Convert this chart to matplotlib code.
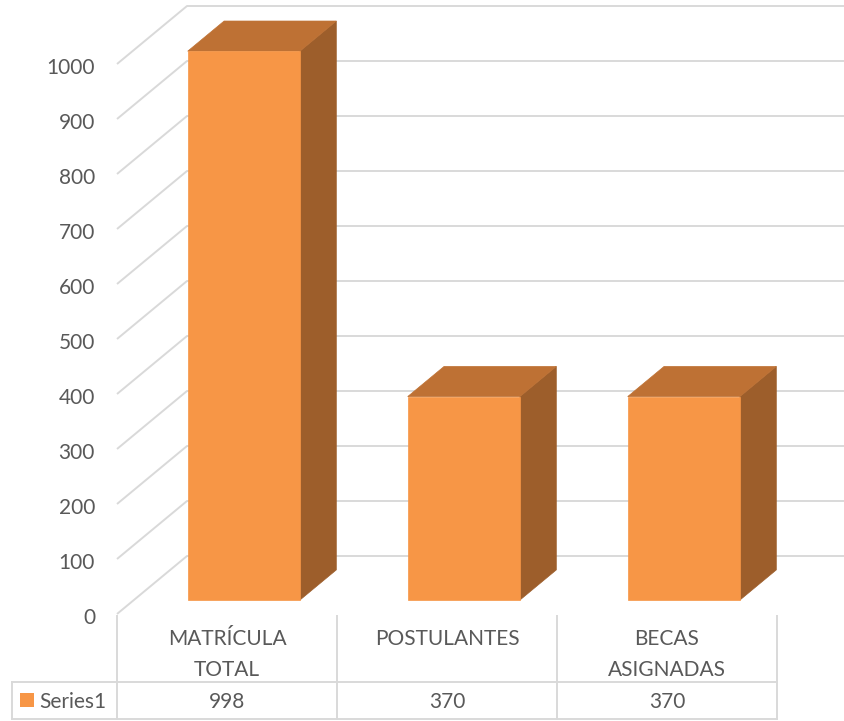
import matplotlib.pyplot as plt
from matplotlib.patches import Polygon

# datos
categorias = ['MATRÍCULA\nTOTAL', 'POSTULANTES', 'BECAS\nASIGNADAS']
valores = [998, 370, 370]
serie = 'Series1'
ticks = [0, 100, 200, 300, 400, 500, 600, 700, 800, 900, 1000]

plt.rcParams['font.family'] = ['Lato', 'DejaVu Sans']
gris_txt = '#595959'
gris_lin = '#d9d9d9'
c_frente, c_tope, c_lado = '#F79646', '#BE7134', '#9D5E2B'
fs = 15

fig = plt.figure(figsize=(8.44, 7.21), dpi=100)
ax = fig.add_axes([0, 0, 1, 1])
ax.set_xlim(0, 844)
ax.set_ylim(721, 0)
ax.axis('off')

# proyeccion oblicua tipo Excel 3D
x_izq, ancho_cat, y_cero, esc = 117, 220, 614, 0.55
prof_dx, prof_dy = 70, 58


def proj(c, v, d):
    return (x_izq + c * ancho_cat + d * prof_dx, y_cero - v * esc - d * prof_dy)


# lineas de cuadricula (pared lateral + pared del fondo)
for t in ticks:
    p0, p1, p2 = proj(0, t, 0), proj(0, t, 1), proj(len(categorias) + 0.2, t, 1)
    ax.plot([p0[0], p1[0], p2[0]], [p0[1], p1[1], p2[1]], color=gris_lin, lw=1.4,
            solid_capstyle='butt', zorder=1)
    ax.text(p0[0] - 22, p0[1] + 4, str(t), ha='right', va='center', fontsize=fs,
            color=gris_txt)

# barras 3D
d0, d1 = 0.24, 0.76
for i, v in enumerate(valores):
    a, b = i + 0.245, i + 0.755
    frente = [proj(a, 0, d0), proj(b, 0, d0), proj(b, v, d0), proj(a, v, d0)]
    tope = [proj(a, v, d0), proj(b, v, d0), proj(b, v, d1), proj(a, v, d1)]
    lado = [proj(b, 0, d0), proj(b, 0, d1), proj(b, v, d1), proj(b, v, d0)]
    for pts, col in ((lado, c_lado), (tope, c_tope), (frente, c_frente)):
        ax.add_patch(Polygon(pts, closed=True, facecolor=col, edgecolor=col, lw=0.5,
                             zorder=3))

# tabla de datos
y_top, y_mid, y_bot, x_leg = 616, 682, 719, 12
for k in range(len(categorias) + 1):
    x = x_izq + k * ancho_cat
    ax.plot([x, x], [y_top, y_bot], color=gris_lin, lw=1.4, zorder=1)
for y in (y_mid, y_bot):
    ax.plot([x_leg, x_izq + len(categorias) * ancho_cat], [y, y], color=gris_lin,
            lw=1.4, zorder=1)
ax.plot([x_leg, x_leg], [y_mid, y_bot], color=gris_lin, lw=1.4, zorder=1)

for i, (cat, v) in enumerate(zip(categorias, valores)):
    xc = x_izq + (i + 0.5) * ancho_cat
    ax.text(xc, 629, cat, ha='center', va='top', fontsize=fs, color=gris_txt,
            linespacing=1.7)
    ax.text(xc, 702, str(v), ha='center', va='center', fontsize=fs, color=gris_txt)

ax.add_patch(Polygon([(20, 693), (34, 693), (34, 707), (20, 707)], closed=True,
                     facecolor=c_frente, edgecolor='none'))
ax.text(39, 702, serie, ha='left', va='center', fontsize=fs, color=gris_txt)

fig.savefig('out.png', dpi=100)
plt.close(fig)
